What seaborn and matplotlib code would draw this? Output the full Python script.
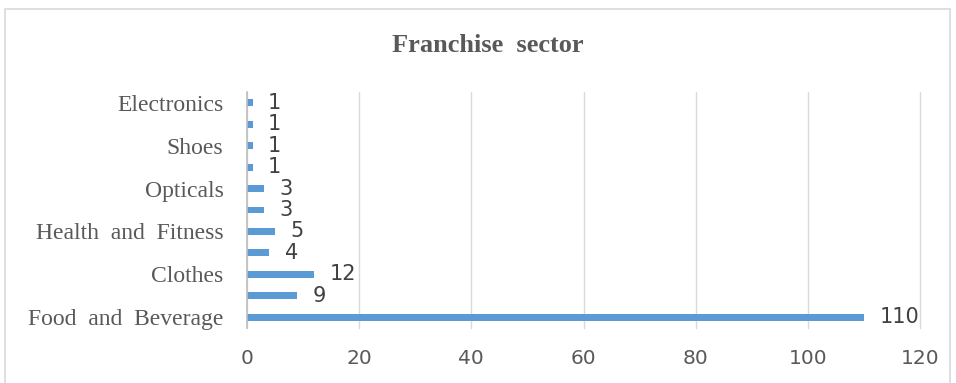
import matplotlib
matplotlib.use("Agg")
import matplotlib.pyplot as plt
import seaborn as sns
import pandas as pd
from matplotlib.patches import Rectangle

# Data (top to bottom as displayed)
category_keys = ["Electronics", "cat_10", "Shoes", "cat_8", "Opticals", "cat_6",
                 "Health and Fitness", "cat_4", "Clothes", "cat_2", "Food and Beverage"]
tick_labels = ["Electronics", "", "Shoes", "", "Opticals", "",
               "Health  and  Fitness", "", "Clothes", "", "Food  and  Beverage"]
values = [1, 1, 1, 1, 3, 3, 5, 4, 12, 9, 110]
x_ticks = [0, 20, 40, 60, 80, 100, 120]
title = "Franchise  sector"

df = pd.DataFrame({"sector": category_keys, "count": values})

sns.set_theme(style="white")
num_font = ["DejaVu Sans"]
serif_font = ["Liberation Serif", "DejaVu Serif"]

fig = plt.figure(figsize=(9.56, 3.83), dpi=100)
ax = fig.add_axes([247/956, 1-328/383, (920-247)/956, (328-92)/383])

sns.barplot(data=df, x="count", y="sector", order=category_keys, color="#5b9bd5",
            width=0.32, ax=ax, saturation=1, edgecolor="none")

ax.set_xlim(0, 120)
ax.set_xticks(x_ticks)
ax.set_xticklabels([str(t) for t in x_ticks], family=num_font, fontsize=14.5, color="#595959")
ax.set_yticks(range(len(category_keys)))
ax.set_yticklabels(tick_labels, family=serif_font, fontsize=17, color="#595959")
ax.set_xlabel("")
ax.set_ylabel("")
ax.tick_params(axis="both", length=0)
ax.tick_params(axis="x", pad=15)
ax.tick_params(axis="y", pad=17)

ax.grid(axis="x", color="#d9d9d9", linewidth=1)
for gl in ax.get_xgridlines():
    gl.set_clip_on(False)
ax.set_axisbelow(True)
for s in ["top", "right", "bottom"]:
    ax.spines[s].set_visible(False)
ax.spines["left"].set_color("#bfbfbf")
ax.spines["left"].set_linewidth(1.2)

for c in ax.containers:
    ax.bar_label(c, labels=[str(v) for v in values], padding=11,
                 family=num_font, fontsize=15, color="#404040")

fig.text(488/956, 1-45/383, title, ha="center", va="center",
         family=serif_font, fontsize=19, fontweight="bold", color="#595959")

fig.patches.append(Rectangle((5/956, -0.01), (950-5)/956, 1-9/383 + 0.01,
                             transform=fig.transFigure, fill=False,
                             edgecolor="#d9d9d9", linewidth=1.2))

fig.savefig("out.png", dpi=100)
